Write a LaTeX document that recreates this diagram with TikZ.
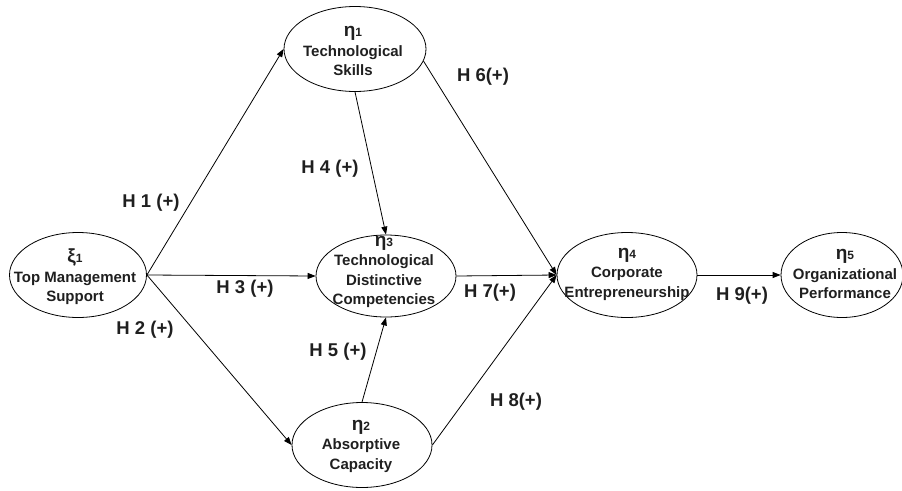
\documentclass[tikz,border=0pt]{standalone}
\usepackage{fontspec}
\setmainfont{Liberation Sans}
\usetikzlibrary{arrows.meta,shapes.geometric}
\tikzset{
  % latent variable: fixed-size ellipse, text set on top of it
  lv/.style    = {ellipse, draw=black, line width=0.8pt, minimum width=140pt,
                  minimum height=85pt, inner sep=0pt},
  lvtext/.style = {align=center, text=black!88, inner sep=0pt,
                  font=\fontsize{15}{19.5}\selectfont\bfseries},
  hyp/.style   = {font=\fontsize{18.5}{22}\selectfont\bfseries, text=black!88},
  link/.style  = {-{Triangle[length=8pt,width=6pt]}, line width=0.8pt, black},
}
\newcommand{\lvar}[2]{{\fontsize{19}{19}\selectfont #1}{\fontsize{12}{12}\selectfont #2}}

\begin{document}
\begin{tikzpicture}[x=1pt,y=-1pt]
\useasboundingbox (0,0) rectangle (902,490);
% constructs
\node[lv, minimum width=137pt] (xi) at (78,275) {};
\node[lv, minimum width=142pt] (e1) at (355,49) {};
\node[lv, minimum height=82pt] (e3) at (386,276) {};
\node[lv] (e2) at (362,445) {};
\node[lv] (e4) at (627,275) {};
\node[lv, minimum width=122pt] (e5) at (842,275) {};
\node[lvtext] at (75,277) {\lvar{ξ}{1}\\Top Management\\Support};
\node[lvtext] at (353,51) {\lvar{η}{1}\\Technological\\Skills};
\node[lvtext] at (384,272) {\lvar{η}{3}\\Technological\\Distinctive\\Competencies};
\node[lvtext] at (361,446) {\lvar{η}{2}\\Absorptive\\Capacity};
\node[lvtext] at (627,274) {\lvar{η}{4}\\Corporate\\Entrepreneurship};
\node[lvtext] at (845,274) {\lvar{η}{5}\\Organizational\\Performance};
% paths
\draw[link] (xi.east) -- (e1.west);
\draw[link] (xi.east) -- (e3.west);
\draw[link] (xi.east) -- (e2.west);
\draw[link] (e1.south) -- (e3.north);
\draw[link] (e2.north) -- (e3.south);
\draw[link] (e1.-10) -- (e4.west);
\draw[link] (e3.east) -- (e4.west);
\draw[link] (e2.east) -- (e4.west);
\draw[link] (e4.east) -- (e5.west);
% hypotheses
\node[hyp] (h1) at (151,203) {H 1 (+)};
\node[hyp] (h2) at (145,330) {H 2 (+)};
\node[hyp] (h3) at (245,289) {H 3 (+)};
\node[hyp] (h4) at (330,169) {H 4 (+)};
\node[hyp] (h5) at (338,352) {H 5 (+)};
\node[hyp] (h6) at (483,77) {H 6(+)};
\node[hyp] (h7) at (490,293) {H 7(+)};
\node[hyp] (h8) at (516,402) {H 8(+)};
\node[hyp] (h9) at (742,296) {H 9(+)};
\end{tikzpicture}
\end{document}
